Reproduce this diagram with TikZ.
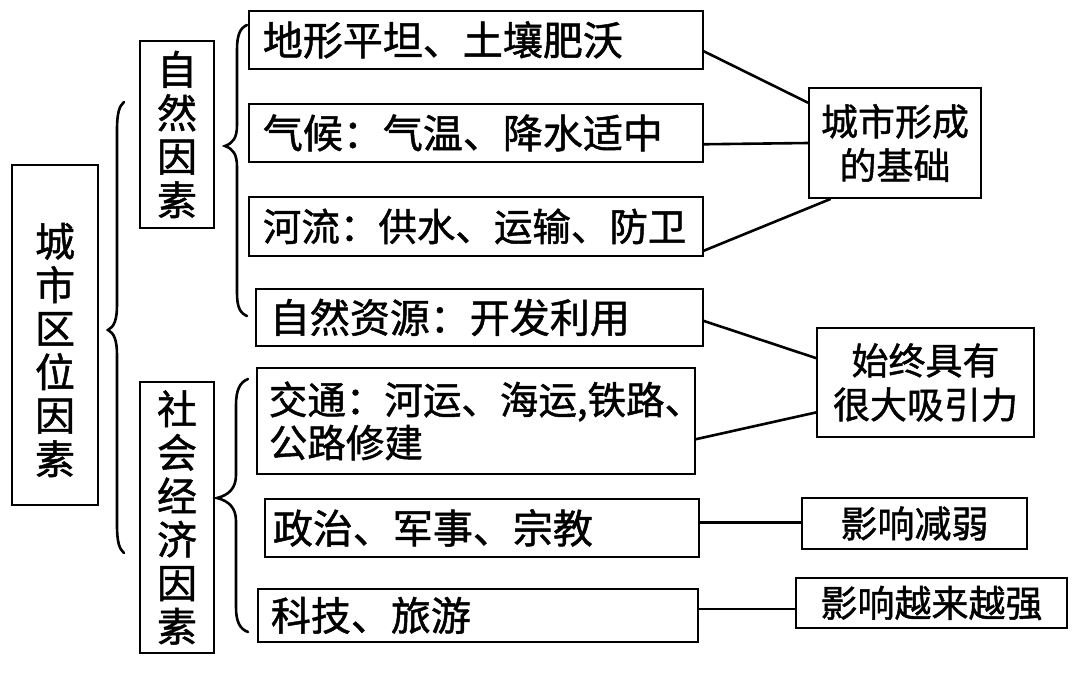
\documentclass[tikz,border=0pt]{standalone}
\usepackage{fontspec}
\newfontfamily\cjk[FakeBold=1.2]{Noto Sans CJK SC}
\usetikzlibrary{calc}
\begin{document}
\begin{tikzpicture}[x=1pt,y=-1pt,
  boxbase/.style={draw, line width=1.8pt, inner ysep=0pt},
  tbox/.style={boxbase, anchor=north west, align=left, inner xsep=14pt,
    font=\cjk\fontsize{40}{43}\selectfont},
  vbox/.style={boxbase, inner xsep=0pt, align=center,
    font=\cjk\fontsize{40}{43.5}\selectfont},
  rbox/.style={boxbase, inner xsep=0pt, align=center,
    font=\cjk\fontsize{37}{44}\selectfont},
  conn/.style={line width=2.6pt},
  bracestyle/.style={line width=2.6pt, line cap=round}]
\useasboundingbox (0,0) rectangle (1080,673);

% vertical boxes
\node[vbox, minimum width=86pt, minimum height=340pt] (city) at (55,335)
  {\raisebox{-15pt}[\height][\depth]{\parbox{44pt}{\centering 城\\市\\区\\位\\因\\素}}};
\node[vbox, minimum width=74pt, minimum height=187pt] (nat) at (177,134.5) {自\\然\\因\\素};
\node[vbox, minimum width=74pt, minimum height=271pt] (soc) at (177,517.5) {社\\会\\经\\济\\因\\素};

% factor boxes
\node[tbox, minimum height=58pt, text width=426pt] (b1) at (248,10) {地形平坦、土壤肥沃};
\node[tbox, minimum height=58pt, text width=426pt] (b2) at (248,103) {气候：气温、降水适中};
\node[tbox, minimum height=59pt, text width=426pt, font=\cjk\fontsize{38.5}{43}\selectfont] (b3) at (248,196) {河流：供水、运输、防卫};
\node[tbox, minimum height=57pt, text width=419pt] (b4) at (255,288) {自然资源：开发利用};
\node[tbox, minimum height=106pt, inner xsep=12pt, text width=414pt, font=\cjk\fontsize{38.5}{43}\selectfont] (jt) at (256,367) {交通：河运、海运,铁路、\\公路修建};
\node[tbox, minimum height=58pt, inner xsep=8pt, text width=418pt] (zz) at (264,498) {政治、军事、宗教};
\node[tbox, minimum height=53pt, inner xsep=13pt, text width=414pt] (kj) at (257,588) {科技、旅游};

% result boxes
\node[rbox, minimum width=172pt, minimum height=110pt] (base) at (895,143) {城市形成\\的基础};
\node[rbox, minimum width=217pt, minimum height=109pt] (attr) at (925.5,382.5) {始终具有\\很大吸引力};
\node[rbox, minimum width=225pt, minimum height=51pt] (weak) at (914.5,523.5) {影响减弱};
\node[rbox, minimum width=271pt, minimum height=50pt] (strong) at (931.5,603) {影响越来越强};

% braces
\draw[bracestyle] (124,102) .. controls (119,106) and (117,114) .. (117,130)
  -- (117,305) .. controls (117,320) and (114,327) .. (108,330)
  .. controls (114,333) and (117,340) .. (117,355)
  -- (117,525) .. controls (117,541) and (119,549) .. (124,553);
\draw[bracestyle] (247,25) .. controls (240,28) and (237,35) .. (237,50)
  -- (237,125) .. controls (237,138) and (233,143) .. (225,146)
  .. controls (233,149) and (237,154) .. (237,167)
  -- (237,293) .. controls (237,307) and (240,313) .. (247,316);
\draw[bracestyle] (248,379) .. controls (240,382) and (236,390) .. (236,405)
  -- (236,475) .. controls (236,488) and (229,495) .. (217,498)
  .. controls (229,501) and (236,508) .. (236,521)
  -- (236,607) .. controls (236,622) and (240,629) .. (248,632);

% connectors
\draw[conn] ($(b1.north east)!0.69!(b1.south east)$) -- ($(base.north west)!0.14!(base.south west)$);
\draw[conn] ($(b2.north east)!0.69!(b2.south east)$) -- ($(base.north west)!0.5!(base.south west)$);
\draw[conn] ($(b3.north east)!0.9!(b3.south east)$) -- ($(base.south west)!0.13!(base.south east)$);
\draw[conn] ($(b4.north east)!0.56!(b4.south east)$) -- ($(attr.north west)!0.28!(attr.south west)$);
\draw[conn] ($(jt.north east)!0.67!(jt.south east)$) -- ($(attr.north west)!0.77!(attr.south west)$);
\draw[conn] ($(zz.north east)!0.41!(zz.south east)$) coordinate (zzp) -- (zzp -| weak.west);
\draw[conn] ($(kj.north east)!0.38!(kj.south east)$) coordinate (kjp) -- (kjp -| strong.west);
\end{tikzpicture}
\end{document}
